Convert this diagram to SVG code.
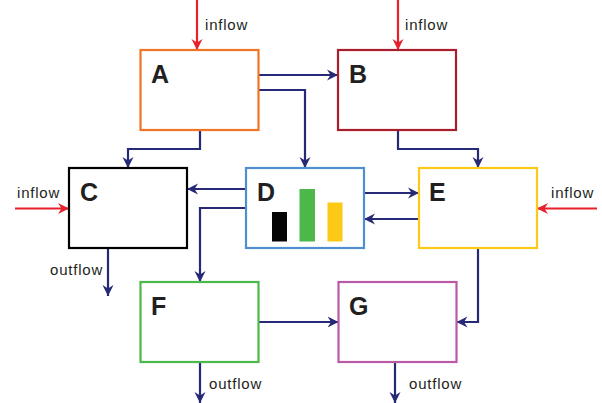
<svg xmlns="http://www.w3.org/2000/svg" width="602" height="403" viewBox="0 0 602 403">
<defs>
<marker id="an" markerUnits="userSpaceOnUse" markerWidth="12" markerHeight="12" viewBox="0 0 12 12" refX="11" refY="6" orient="auto">
<path d="M0,0.5 L11,6 L0,11.5 L3.5,6 Z" fill="#262a76"/>
</marker>
<marker id="ar" markerUnits="userSpaceOnUse" markerWidth="12" markerHeight="12" viewBox="0 0 12 12" refX="11" refY="6" orient="auto">
<path d="M0,0.5 L11,6 L0,11.5 L3.5,6 Z" fill="#e8202a"/>
</marker>
</defs>
<style>
.box{fill:#fff;stroke-width:2.2}
.lbl{font-family:"Liberation Sans",Arial,sans-serif;font-weight:bold;font-size:25px;fill:#231f20}
.t{font-family:"Liberation Sans",Arial,sans-serif;font-size:15px;letter-spacing:0.8px;fill:#231f20}
.c{fill:none;stroke:#262a76;stroke-width:2.2;marker-end:url(#an)}
.r{fill:none;stroke:#e8202a;stroke-width:2.2;marker-end:url(#ar)}
</style>
<rect width="602" height="403" fill="#fff"/>
<g id="connectors">
<path class="c" d="M259,75 H338"/>
<path class="c" d="M259,90 H305 V168"/>
<path class="c" d="M200,130 V149 H128 V168"/>
<path class="c" d="M398,130 V149 H478 V168"/>
<path class="c" d="M246,189 H187"/>
<path class="c" d="M246,208 H200 V282"/>
<path class="c" d="M364,193 H419"/>
<path class="c" d="M419,219 H364"/>
<path class="c" d="M478,248 V322 H456.5"/>
<path class="c" d="M258.5,322 H338.5"/>
<path class="c" d="M108,248 V296"/>
<path class="c" d="M200,362 V403"/>
<path class="c" d="M395,362 V403"/>
<path class="r" d="M197,0 V50"/>
<path class="r" d="M398,0 V50"/>
<path class="r" d="M15,208.5 H69"/>
<path class="r" d="M597,208.5 H537"/>
</g>
<g id="flowlabels">
<text class="t" x="205" y="30">inflow</text>
<text class="t" x="405" y="30">inflow</text>
<text class="t" x="17" y="198">inflow</text>
<text class="t" x="551" y="198">inflow</text>
<text class="t" x="50" y="275">outflow</text>
<text class="t" x="209" y="389">outflow</text>
<text class="t" x="409" y="389">outflow</text>
</g>
<g id="A"><rect class="box" x="140.5" y="50" width="118" height="80" stroke="#f07426"/><text class="lbl" x="151" y="83">A</text></g>
<g id="B"><rect class="box" x="338" y="50" width="118" height="80" stroke="#a91e2d"/><text class="lbl" x="349" y="83">B</text></g>
<g id="C"><rect class="box" x="69" y="168" width="118" height="80" stroke="#000"/><text class="lbl" x="80" y="201">C</text></g>
<g id="D"><rect class="box" x="246" y="168" width="118" height="80" stroke="#4f8fcf"/><text class="lbl" x="257" y="201">D</text>
<rect x="272" y="212" width="15" height="29.5" fill="#050505"/>
<rect x="299.5" y="189" width="15.5" height="52.5" fill="#4cb849"/>
<rect x="327.5" y="202.5" width="15" height="39" fill="#fcc917"/></g>
<g id="E"><rect class="box" x="419" y="168" width="118" height="80" stroke="#fcc917"/><text class="lbl" x="429" y="201">E</text></g>
<g id="F"><rect class="box" x="140.5" y="282" width="118" height="80" stroke="#4cb849"/><text class="lbl" x="151" y="315">F</text></g>
<g id="G"><rect class="box" x="338.5" y="282" width="118" height="80" stroke="#b85aa8"/><text class="lbl" x="349" y="315">G</text></g>
</svg>
